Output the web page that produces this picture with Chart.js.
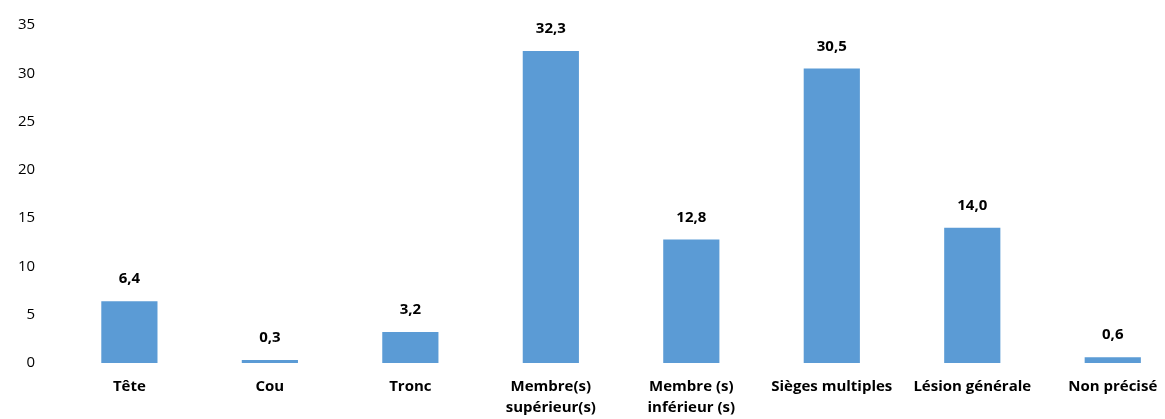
<!DOCTYPE html>
<html>
<head>
<meta charset="utf-8">
<script src="https://cdn.jsdelivr.net/npm/chart.js@4"></script>
<style>
  html, body { margin: 0; padding: 0; background: #fff; overflow: hidden; }
  #wrap { width: 1190px; height: 419px; position: relative; }
</style>
</head>
<body>
<div id="wrap"><canvas id="chart"></canvas></div>
<script>
const categories = ['Tête', 'Cou', 'Tronc', ['Membre(s)', 'supérieur(s)'], ['Membre (s)', 'inférieur (s)'], 'Sièges multiples', 'Lésion générale', 'Non précisé'];
const values = [6.4, 0.3, 3.2, 32.3, 12.8, 30.5, 14.0, 0.6];
const yTicks = [0, 5, 10, 15, 20, 25, 30, 35];

const FONT = '"Open Sans", sans-serif';

const barLabels = {
    id: 'barLabels',
    afterDatasetsDraw(chart) {
        const ctx = chart.ctx;
        ctx.save();
        ctx.font = 'bold 15px ' + FONT;
        ctx.fillStyle = '#000';
        ctx.textAlign = 'center';
        ctx.textBaseline = 'middle';
        chart.getDatasetMeta(0).data.forEach((bar, i) => {
            ctx.fillText(values[i].toFixed(1).replace('.', ','), bar.x, bar.y - 22);
        });
        ctx.restore();
    }
};

new Chart(document.getElementById('chart').getContext('2d'), {
    type: 'bar',
    data: {
        labels: categories,
        datasets: [{
            data: values,
            backgroundColor: '#5B9BD5',
            barPercentage: 0.4,
            categoryPercentage: 1
        }]
    },
    options: {
        responsive: true,
        maintainAspectRatio: false,
        animation: false,
        layout: { padding: { top: 18, right: 7, left: 2, bottom: 0 } },
        plugins: { legend: { display: false }, tooltip: { enabled: false } },
        scales: {
            x: {
                afterFit(axis) { axis.height = 56; },
                grid: { display: false },
                border: { display: false },
                ticks: {
                    color: '#000',
                    maxRotation: 0,
                    autoSkip: false,
                    padding: 5,
                    font: { family: FONT, size: 15, weight: 'bold', lineHeight: 1.4 }
                }
            },
            y: {
                min: 0,
                max: 35,
                afterBuildTicks(axis) { axis.ticks = yTicks.map(v => ({ value: v })); },
                grid: { display: false },
                border: { display: false },
                ticks: {
                    color: '#000',
                    padding: 16,
                    font: { family: FONT, size: 15 }
                }
            }
        }
    },
    plugins: [barLabels]
});
</script>
</body>
</html>
